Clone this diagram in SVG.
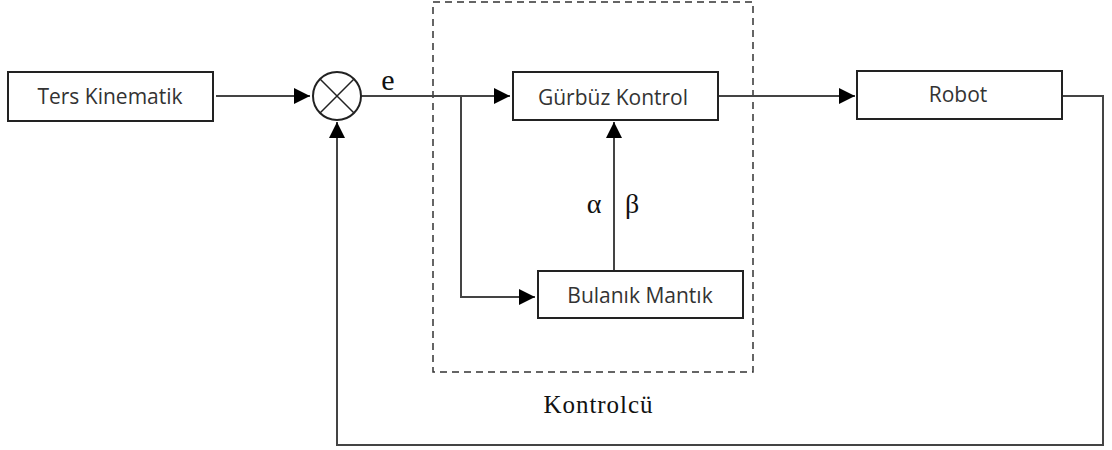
<svg xmlns="http://www.w3.org/2000/svg" width="1112" height="450" viewBox="0 0 1112 450">
<defs>
<style>
.box{fill:#fff;stroke:#222;stroke-width:2}
.lbl{font-family:"Open Sans","Liberation Sans",sans-serif;font-size:21px;fill:#333;text-anchor:middle}
.ser{font-family:"Liberation Serif",serif;fill:#111}
.ln{fill:none;stroke:#444;stroke-width:2}
</style>
<marker id="arr" viewBox="0 0 10 10" refX="10" refY="5" markerWidth="16" markerHeight="16" markerUnits="userSpaceOnUse" orient="auto">
<path d="M0,0 L10,5 L0,10 Z" fill="#000"/>
</marker>
</defs>
<rect width="1112" height="450" fill="#fff"/>
<g id="controller-frame">
<rect x="433" y="2" width="320" height="370" fill="none" stroke="#333" stroke-width="1.5" stroke-dasharray="7,5"/>
<text class="ser" x="598" y="413" font-size="25" text-anchor="middle" textLength="109">Kontrolcü</text>
</g>
<g id="connectors">
<path class="ln" d="M216,96 H310" marker-end="url(#arr)"/>
<path class="ln" d="M361,96 H510" marker-end="url(#arr)"/>
<path class="ln" d="M461,96 V297 H535" marker-end="url(#arr)"/>
<path class="ln" d="M614,271 V122" marker-end="url(#arr)"/>
<path class="ln" d="M718,96 H855" marker-end="url(#arr)"/>
<path class="ln" d="M1062,96 H1103 V445 H337 V122" marker-end="url(#arr)"/>
<text class="ser" x="388" y="90" font-size="30" text-anchor="middle">e</text>
<text class="ser" x="594" y="213" font-size="28" text-anchor="middle" fill="#333">α</text>
<text class="ser" x="632" y="213" font-size="28" text-anchor="middle" fill="#333">β</text>
</g>
<g id="ters-kinematik">
<rect class="box" x="8" y="72" width="205" height="49"/>
<text class="lbl" x="110" y="104">Ters Kinematik</text>
</g>
<g id="sum">
<circle cx="337" cy="96" r="24" fill="#fff" stroke="#222" stroke-width="2"/>
<path d="M320,79 L354,113 M354,79 L320,113" stroke="#222" stroke-width="1.5"/>
</g>
<g id="gurbuz-kontrol">
<rect class="box" x="513" y="72" width="205" height="48"/>
<text class="lbl" x="613" y="105">Gürbüz Kontrol</text>
</g>
<g id="robot">
<rect class="box" x="857" y="71" width="205" height="48"/>
<text class="lbl" x="958" y="102">Robot</text>
</g>
<g id="bulanik-mantik">
<rect class="box" x="538" y="271" width="205" height="47"/>
<text class="lbl" x="640" y="303">Bulanık Mantık</text>
</g>
</svg>
